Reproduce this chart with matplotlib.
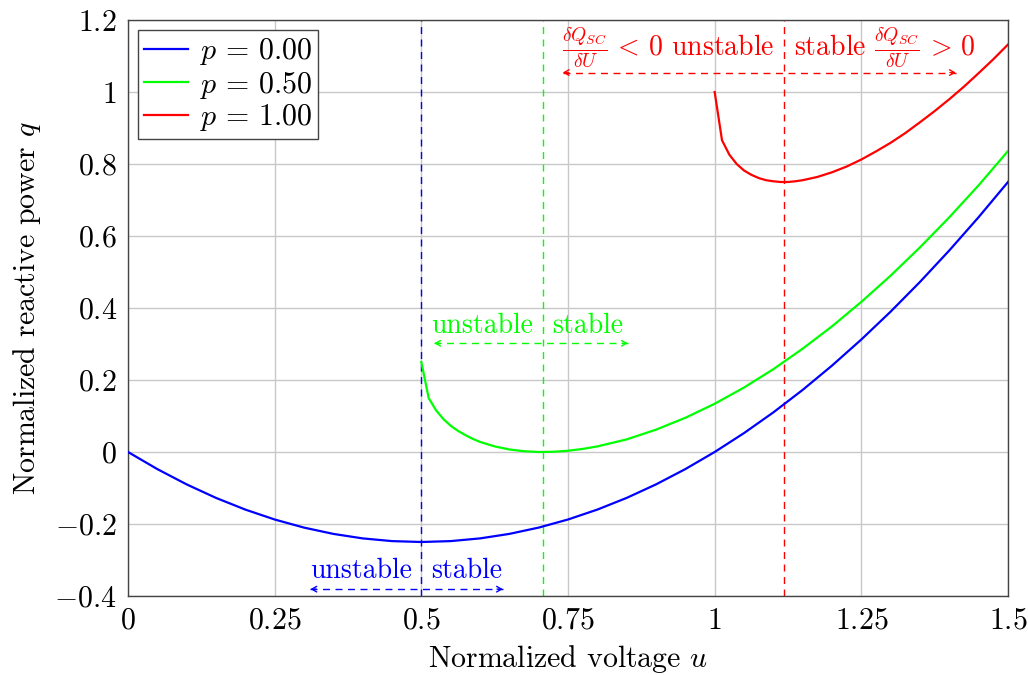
import matplotlib
matplotlib.use("Agg")
import matplotlib.pyplot as plt

plt.rcParams['font.family'] = 'cmr10'
plt.rcParams['mathtext.fontset'] = 'cm'
plt.rcParams['axes.formatter.use_mathtext'] = True
plt.rcParams['axes.unicode_minus'] = False

# --- data ---
u_p0 = [0.0, 0.05, 0.1, 0.15, 0.2, 0.25, 0.3, 0.35, 0.4, 0.45, 0.5, 0.55, 0.6, 0.65, 0.7, 0.75,
        0.8, 0.85, 0.9, 0.95, 1.0, 1.05, 1.1, 1.15, 1.2, 1.25, 1.3, 1.35, 1.4, 1.45, 1.5]
q_p0 = [0.0, -0.0475, -0.09, -0.1275, -0.16, -0.1875, -0.21, -0.2275, -0.24, -0.2475, -0.25,
        -0.2475, -0.24, -0.2275, -0.21, -0.1875, -0.16, -0.1275, -0.09, -0.0475, 0.0, 0.0525,
        0.11, 0.1725, 0.24, 0.3125, 0.39, 0.4725, 0.56, 0.6525, 0.75]

u_p05 = [0.5, 0.5125, 0.525, 0.5375, 0.55, 0.5625, 0.575, 0.5875, 0.6, 0.625, 0.65, 0.675,
         0.7, 0.725, 0.75, 0.775, 0.8, 0.85, 0.9, 0.95, 1.0,
         1.05, 1.1, 1.15, 1.2, 1.25, 1.3, 1.35, 1.4, 1.45, 1.5]
q_p05 = [0.25, 0.150, 0.116, 0.0916, 0.073, 0.0587, 0.047, 0.0366, 0.028, 0.0156, 0.007, 0.0022,
         0.000, 0.0006, 0.0035, 0.0085, 0.0155, 0.035, 0.062, 0.095, 0.134,
         0.179, 0.230, 0.287, 0.349, 0.417, 0.490, 0.5685, 0.652, 0.741, 0.836]

u_p1 = [1.0, 1.0125, 1.025, 1.0375, 1.05, 1.0625, 1.075, 1.0875, 1.1, 1.1125, 1.125, 1.1375,
        1.15, 1.175, 1.2, 1.225, 1.25, 1.275, 1.3, 1.325, 1.35, 1.375, 1.4, 1.425, 1.45,
        1.475, 1.5]
q_p1 = [1.0, 0.866, 0.826, 0.800, 0.782, 0.770, 0.761, 0.755, 0.752, 0.750, 0.750, 0.752,
        0.755, 0.764, 0.777, 0.793, 0.8125, 0.835, 0.859, 0.886, 0.916, 0.947, 0.980, 1.015,
        1.0525, 1.091, 1.132]

labels = [r'$p\,=\,0.00$', r'$p\,=\,0.50$', r'$p\,=\,1.00$']
colors = ['#0000ff', '#00ff00', '#ff0000']

# stability boundaries (minimum of each curve)
u_crit = [0.5, 0.7071, 1.118]
# annotation arrows: (left u, right u, q level) and text baseline level
arrow_left = [0.311, 0.522, 0.741]
arrow_right = [0.639, 0.852, 1.411]
arrow_q = [-0.381, 0.302, 1.054]
text_q = [-0.349, 0.330, 1.103]
left_texts = ['unstable', 'unstable', r'$\frac{\delta Q_{SC}}{\delta U}\,<\,0$ unstable']
right_texts = ['stable', 'stable', r'stable $\frac{\delta Q_{SC}}{\delta U}\,>\,0$']

xticks = [0, 0.25, 0.5, 0.75, 1, 1.25, 1.5]
xticklabels = ['$0$', '$0.25$', '$0.5$', '$0.75$', '$1$', '$1.25$', '$1.5$']
yticks = [-0.4, -0.2, 0, 0.2, 0.4, 0.6, 0.8, 1.0, 1.2]
yticklabels = ['$-0.4$', '$-0.2$', '$0$', '$0.2$', '$0.4$', '$0.6$', '$0.8$', '$1$', '$1.2$']

FS = 21.5
FS_ANN = 20

fig = plt.figure(figsize=(10.28, 6.75), dpi=100)
ax = fig.add_axes([128 / 1028, 1 - 596 / 675, 880 / 1028, 576 / 675])

ax.set_xlim(0, 1.5)
ax.set_ylim(-0.4, 1.2)
ax.set_xticks(xticks)
ax.set_xticklabels(xticklabels)
ax.set_yticks(yticks)
ax.set_yticklabels(yticklabels)
ax.tick_params(axis='both', length=0, labelsize=FS)
ax.tick_params(axis='x', pad=8)
ax.tick_params(axis='y', pad=8)
ax.grid(True, color='#c8c8c8', linewidth=1.0)
ax.set_axisbelow(True)
for s in ax.spines.values():
    s.set_color('#444444')
    s.set_linewidth(1.0)

ax.plot(u_p0, q_p0, color=colors[0], lw=1.6, label=labels[0], zorder=3)
ax.plot(u_p05, q_p05, color=colors[1], lw=1.6, label=labels[1], zorder=3)
ax.plot(u_p1, q_p1, color=colors[2], lw=1.6, label=labels[2], zorder=3)

for i in range(3):
    c = colors[i]
    ax.axvline(u_crit[i], color=c, lw=1.0, dashes=(5, 4), zorder=2)
    # dashed arrow body
    ax.plot([arrow_left[i], arrow_right[i]], [arrow_q[i], arrow_q[i]], color=c, lw=1.0,
            dashes=(5, 4), zorder=2)
    # open arrow heads
    for xe, xs in ((arrow_left[i], arrow_left[i] + 0.01), (arrow_right[i], arrow_right[i] - 0.01)):
        ax.annotate('', xy=(xe, arrow_q[i]), xytext=(xs, arrow_q[i]),
                    arrowprops=dict(arrowstyle='->,head_length=0.35,head_width=0.2',
                                    color=c, lw=1.0, shrinkA=0, shrinkB=0))
    ax.annotate(left_texts[i], xy=(u_crit[i], text_q[i]), xytext=(-7, 0),
                textcoords='offset points', ha='right', va='baseline', color=c, fontsize=FS_ANN)
    ax.annotate(right_texts[i], xy=(u_crit[i], text_q[i]), xytext=(7, 0),
                textcoords='offset points', ha='left', va='baseline', color=c, fontsize=FS_ANN)

ax.set_xlabel(r'Normalized voltage $u$', fontsize=FS, labelpad=6)
ax.set_ylabel(r'Normalized reactive power $q$', fontsize=FS, labelpad=8)

leg = ax.legend(loc='upper left', fontsize=FS, frameon=True, fancybox=False,
                edgecolor='#444444', framealpha=1.0, handlelength=1.45, handletextpad=0.4,
                borderpad=0.2, labelspacing=0.05, borderaxespad=0.35)
leg.get_frame().set_linewidth(1.0)

fig.savefig('out.png', dpi=100)
